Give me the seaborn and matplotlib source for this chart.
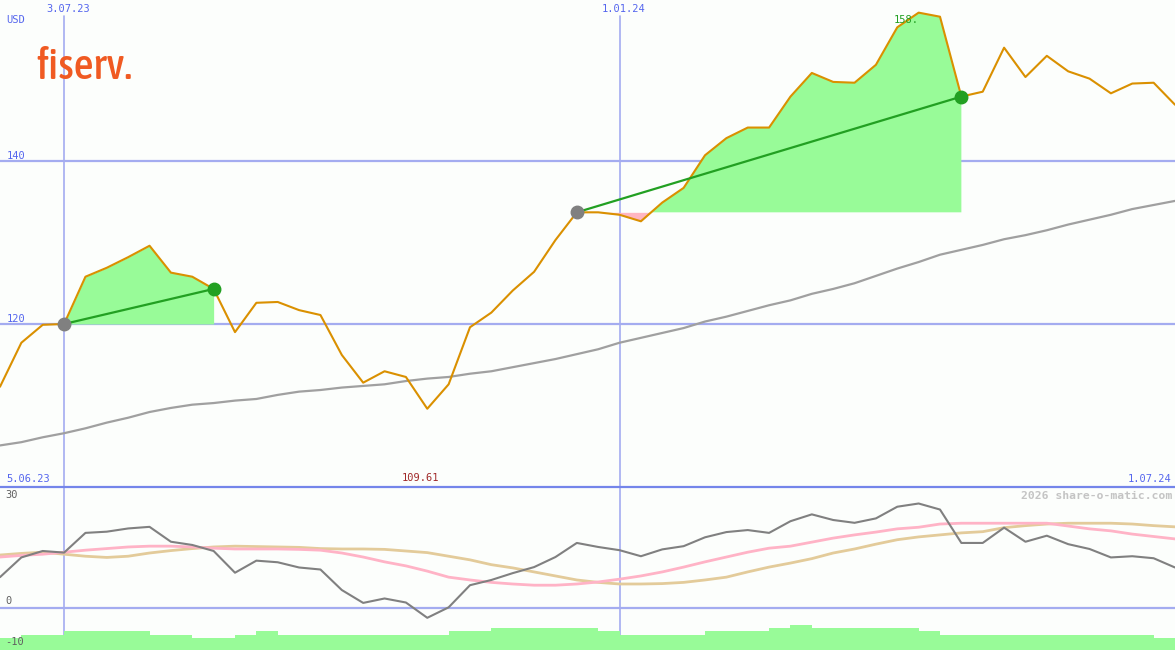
import numpy as np
import matplotlib
matplotlib.use("Agg")
import matplotlib.pyplot as plt
from matplotlib import font_manager as fm
from matplotlib.lines import Line2D
import seaborn as sns

# ---------------- data (weekly points) ----------------
price = [112.3, 117.7, 119.9, 120.0, 125.8, 126.9, 128.2, 129.6, 126.3, 125.8,
         124.3, 119.0, 122.6, 122.7, 121.7, 121.1, 116.2, 112.8, 114.2, 113.5,
         109.6, 112.6, 119.6, 121.4, 124.1, 126.4, 130.3, 133.7, 133.7, 133.4,
         132.6, 134.9, 136.7, 140.7, 142.8, 144.1, 144.1, 147.9, 150.8, 149.7,
         149.6, 151.8, 156.4, 158.2, 157.7, 147.9, 148.5, 153.9, 150.3, 152.9,
         151.0, 150.1, 148.3, 149.5, 149.6, 146.9]
ma_long = [105.1, 105.5, 106.1, 106.6, 107.2, 107.9, 108.5, 109.2, 109.7, 110.1,
           110.3, 110.6, 110.8, 111.3, 111.7, 111.9, 112.2, 112.4, 112.6, 113.0,
           113.3, 113.5, 113.9, 114.2, 114.7, 115.2, 115.7, 116.3, 116.9, 117.7,
           118.3, 118.9, 119.5, 120.3, 120.9, 121.6, 122.3, 122.9, 123.7, 124.3,
           125.0, 125.9, 126.8, 127.6, 128.5, 129.1, 129.7, 130.4, 130.9, 131.5,
           132.2, 132.8, 133.4, 134.1, 134.6, 135.1]
osc = [7.6, 12.5, 14.1, 13.7, 18.6, 18.9, 19.7, 20.1, 16.4, 15.6,
       14.1, 8.7, 11.7, 11.3, 10.0, 9.5, 4.4, 1.2, 2.3, 1.3,
       -2.5, 0.1, 5.6, 6.9, 8.6, 10.1, 12.6, 16.1, 15.1, 14.3,
       12.8, 14.5, 15.3, 17.5, 18.8, 19.3, 18.6, 21.5, 23.2, 21.8,
       21.1, 22.2, 25.1, 25.9, 24.4, 16.1, 16.1, 19.9, 16.4, 17.9,
       15.8, 14.6, 12.5, 12.8, 12.3, 10.0]
osc_fast = [12.6, 13.0, 13.3, 13.8, 14.3, 14.7, 15.1, 15.3, 15.3, 15.1,
            14.8, 14.6, 14.6, 14.6, 14.5, 14.3, 13.6, 12.6, 11.4, 10.4,
            9.1, 7.6, 6.9, 6.3, 5.9, 5.6, 5.6, 5.9, 6.4, 7.1,
            7.9, 8.9, 10.1, 11.4, 12.6, 13.8, 14.8, 15.3, 16.3, 17.3,
            18.1, 18.8, 19.6, 20.0, 20.8, 21.0, 21.0, 21.0, 21.0, 21.0,
            20.3, 19.6, 19.1, 18.3, 17.7, 17.1]
osc_slow = [13.1, 13.5, 13.8, 13.3, 12.8, 12.5, 12.8, 13.6, 14.2, 14.7,
            15.1, 15.3, 15.2, 15.1, 15.0, 14.7, 14.6, 14.6, 14.5, 14.1,
            13.7, 12.8, 11.9, 10.7, 9.9, 8.9, 7.9, 6.9, 6.3, 5.9,
            5.9, 6.0, 6.3, 6.9, 7.6, 8.9, 10.1, 11.1, 12.2, 13.6,
            14.6, 15.8, 16.9, 17.6, 18.1, 18.6, 18.9, 19.9, 20.4, 20.8,
            21.0, 21.0, 21.0, 20.8, 20.4, 20.1]
volume = [4, 5, 5, 6, 6, 6, 6, 5, 5, 4, 4, 5, 6, 5, 5, 5, 5, 5, 5, 5,
          5, 6, 6, 7, 7, 7, 7, 7, 6, 5, 5, 5, 5, 6, 6, 6, 7, 8, 7, 7,
          7, 7, 7, 6, 5, 5, 5, 5, 5, 5, 5, 5, 5, 5, 4]
entries = [3, 27]
exits = [10, 45]
vline_idx = [3, 29]
vline_labels = ["3.07.23", "1.01.24"]
price_ticks = [120, 140]
osc_ticks = [30, 0, -10]
start_label, end_label = "5.06.23", "1.07.24"
min_label, max_label = "109.61", "158."

# ---------------- style ----------------
W, H = 1175, 650
sns.set_style("white")
plt.rcParams["font.family"] = ["DejaVu Sans Mono", "DejaVu Sans"]
BG = "#fcfefc"
GRID = "#a4acf0"
BLUE = "#5566ee"
ORANGE = "#da9000"
GREEN_FILL = "#98fb98"
PINK_FILL = "#ffb6c1"
DGREEN = "#22a022"

fig = plt.figure(figsize=(W / 100, H / 100), dpi=100, facecolor=BG)
top = fig.add_axes([0, 163 / H, 1, 487 / H])
bot = fig.add_axes([0, 0, 1, 163 / H])
for ax in (top, bot):
    ax.set_facecolor(BG)
    for s in ax.spines.values():
        s.set_visible(False)
    ax.set_xticks([])
    ax.set_yticks([])
    ax.set_xlim(0, len(price) - 1)

top.set_ylim(100, 159.75)
bot.set_ylim(-10.5, 30)

x = np.arange(len(price))
p = np.array(price)

# grid lines
for t in price_ticks:
    top.axhline(t, color=GRID, lw=1.6, zorder=1)
for vi in vline_idx:
    top.plot([vi, vi], [100, 157.8], color=GRID, lw=1.2, zorder=1)
    bot.axvline(vi, color=GRID, lw=1.2, zorder=1)
bot.axhline(0, color=GRID, lw=1.6, zorder=1)

# long moving average
sns.lineplot(x=x, y=ma_long, ax=top, color="#a0a0a0", lw=1.6, zorder=2)

# trade fills
for e, q in zip(entries, exits):
    xs = x[e:q + 1]
    ys = p[e:q + 1]
    base = p[e]
    top.fill_between(xs, ys, base, where=ys >= base, interpolate=True,
                     color=GREEN_FILL, lw=0, zorder=2)
    top.fill_between(xs, ys, base, where=ys < base, interpolate=True,
                     color=PINK_FILL, lw=0, zorder=2)

# price line
sns.lineplot(x=x, y=price, ax=top, color=ORANGE, lw=1.5, zorder=3)

# trade lines + markers
for e, q in zip(entries, exits):
    sns.lineplot(x=[e, q], y=[p[e], p[q]], ax=top, color=DGREEN, lw=1.6, zorder=4)
    top.plot([e], [p[e]], "o", color="#808080", ms=9, zorder=5)
    top.plot([q], [p[q]], "o", color=DGREEN, ms=9, zorder=5)

# bottom panel
bx = np.arange(len(volume))
bot.bar(bx, np.array(volume) * 0.77, width=1.0, align="edge", bottom=-10.5,
        color=GREEN_FILL, lw=0, zorder=3)
sns.lineplot(x=x, y=osc_slow, ax=bot, color="#e3cb9a", lw=2.0, zorder=2)
sns.lineplot(x=x, y=osc_fast, ax=bot, color="#ffb3c6", lw=2.0, zorder=2)
sns.lineplot(x=x, y=osc, ax=bot, color="#808080", lw=1.5, zorder=2)

# panel separator line
fig.add_artist(Line2D([0, 1], [1 - 487 / H, 1 - 487 / H], color="#7485ea",
                      lw=1.6, transform=fig.transFigure, zorder=10))


def ptext(px, py, s, **kw):
    return fig.text(px / W, 1 - py / H, s, va="center", **kw)


FS = 7.5
ptext(6, 20, "USD", color=BLUE, fontsize=FS)
for vi, lab in zip(vline_idx, vline_labels):
    ptext(vi * W / 55 + 4, 9, lab, color=BLUE, fontsize=FS, ha="center")
for t in price_ticks:
    py = (159.75 - t) / 59.75 * 487
    ptext(7, py - 5, str(t), color=BLUE, fontsize=FS)
ptext(6, 479, start_label, color=BLUE, fontsize=FS)
ptext(1171, 479, end_label, color=BLUE, fontsize=FS, ha="right")
imin = int(np.argmin(p))
imax = int(np.argmax(p))
ptext(imin * W / 55 - 7, 478, min_label, color="#a02828", fontsize=FS, ha="center")
ptext(imax * W / 55, 20, max_label, color=DGREEN, fontsize=FS, ha="right")
ptext(1172, 496, "2026 share-o-matic.com", color="#c4c4c4", fontsize=8.2,
      ha="right", fontweight="bold")
for t, py in zip(osc_ticks, [495, 601, 642]):
    ptext(5, py, str(t), color="#606060", fontsize=FS)

# logo: prefer a condensed face if one is installed
cands = []
for f in fm.fontManager.ttflist:
    nm = f.name.lower()
    st = str(f.stretch).lower()
    cond = ("narrow" in nm or "condensed" in nm or "condensed" in st
            or "narrow" in st)
    if cond and "italic" not in str(f.style).lower():
        w = f.weight if isinstance(f.weight, int) else 400
        cands.append((abs(w - 500), f.fname))
if cands:
    cands.sort()
    logo_fp = fm.FontProperties(fname=cands[0][1])
else:
    logo_fp = fm.FontProperties(family=["Liberation Sans", "DejaVu Sans"])

logo = fig.text(36 / W, 1 - 79 / H, "fiserv.", color="#f05a22",
                fontproperties=logo_fp, va="baseline", ha="left")
logo.set_fontsize(40)
fig.canvas.draw()
bb = logo.get_window_extent(renderer=fig.canvas.get_renderer())
fs = 40 * 96 / bb.width
fs = min(fs, 46)
logo.set_fontsize(fs)

fig.savefig("out.png", dpi=100, facecolor=BG)
